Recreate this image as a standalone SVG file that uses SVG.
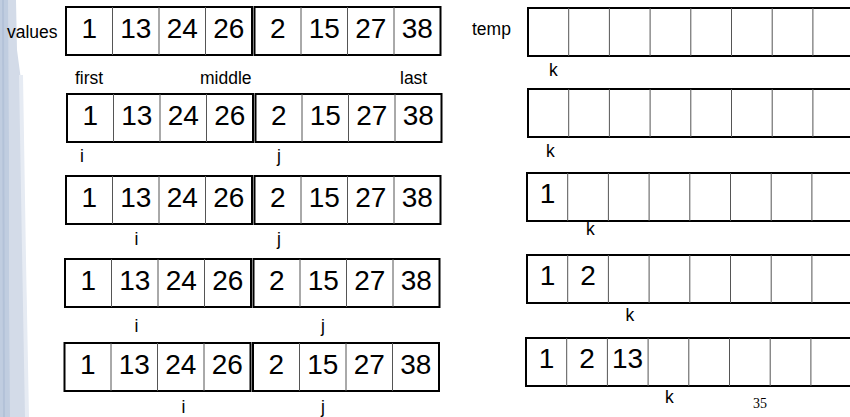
<svg xmlns="http://www.w3.org/2000/svg" width="850" height="417" viewBox="0 0 850 417">
<style>
  .outer{fill:#fff;stroke:#000;stroke-width:2}
  .div{stroke:#555;stroke-width:1}
  .num{font-family:"Liberation Sans",Arial,sans-serif;font-size:28px;fill:#000;text-anchor:middle}
  .lbl{font-family:"Liberation Sans",Arial,sans-serif;font-size:17.5px;fill:#000}
  .pg{font-family:"Liberation Serif","Times New Roman",serif;font-size:14px;fill:#000}
</style>
<defs>
  <g id="half">
    <rect class="outer" x="0" y="0" width="186" height="48"/>
    <line class="div" x1="46.5" y1="0" x2="46.5" y2="48"/>
    <line class="div" x1="93" y1="0" x2="93" y2="48"/>
    <line class="div" x1="139.5" y1="0" x2="139.5" y2="48"/>
  </g>
  <g id="arr">
    <use href="#half"/>
    <use href="#half" x="188.5"/>
    <text class="num" x="23.25" y="31">1</text>
    <text class="num" x="69.75" y="31">13</text>
    <text class="num" x="116.25" y="31">24</text>
    <text class="num" x="162.75" y="31">26</text>
    <text class="num" x="211.75" y="31">2</text>
    <text class="num" x="258.25" y="31">15</text>
    <text class="num" x="304.75" y="31">27</text>
    <text class="num" x="351.25" y="31">38</text>
  </g>
  <g id="tmp">
    <rect class="outer" x="0" y="0" width="330" height="48"/>
    <line class="div" x1="40.7" y1="0" x2="40.7" y2="48"/>
    <line class="div" x1="81.4" y1="0" x2="81.4" y2="48"/>
    <line class="div" x1="122.1" y1="0" x2="122.1" y2="48"/>
    <line class="div" x1="162.8" y1="0" x2="162.8" y2="48"/>
    <line class="div" x1="203.5" y1="0" x2="203.5" y2="48"/>
    <line class="div" x1="244.2" y1="0" x2="244.2" y2="48"/>
    <line class="div" x1="284.9" y1="0" x2="284.9" y2="48"/>
  </g>
</defs>

<g id="background">
  <polygon points="0,0 16,0 17,50 21,80 24,200 26,290 28,417 0,417" fill="#d3dbe8"/>
  <polygon points="0,0 8,0 9,150 9,300 10,417 0,417" fill="#c0cde0"/>
  <polygon points="19,75 23,75 26,260 29,417 25,417 22,250" fill="#e6ebf3"/>
  <polygon points="2,0 4,0 5,417 3,417" fill="#b3c2d8"/>
</g>

<g id="values-labels">
  <text class="lbl" x="7" y="37.5">values</text>
  <text class="lbl" x="75" y="84">first</text>
  <text class="lbl" x="200" y="84">middle</text>
  <text class="lbl" x="400" y="84">last</text>
  <text class="lbl" x="472" y="35">temp</text>
</g>

<g id="values-row1"><use href="#arr" x="66" y="7"/></g>
<g id="values-row2"><use href="#arr" x="67" y="94"/></g>
<g id="values-row3"><use href="#arr" x="66" y="176"/></g>
<g id="values-row4"><use href="#arr" x="65" y="259"/></g>
<g id="values-row5"><use href="#arr" x="64.5" y="343"/></g>

<g id="ij-labels">
  <text class="lbl" x="80" y="162">i</text>
  <text class="lbl" x="277" y="162">j</text>
  <text class="lbl" x="134.5" y="245">i</text>
  <text class="lbl" x="277" y="245">j</text>
  <text class="lbl" x="134.5" y="332">i</text>
  <text class="lbl" x="321" y="332">j</text>
  <text class="lbl" x="181.5" y="413">i</text>
  <text class="lbl" x="321" y="413">j</text>
</g>

<g id="temp-row1"><use href="#tmp" x="528" y="8"/></g>
<g id="temp-row2"><use href="#tmp" x="528" y="89"/></g>
<g id="temp-row3"><use href="#tmp" x="527" y="173"/>
  <text class="num" x="547.5" y="203">1</text>
</g>
<g id="temp-row4"><use href="#tmp" x="527" y="255"/>
  <text class="num" x="547.5" y="285">1</text>
  <text class="num" x="588" y="285">2</text>
</g>
<g id="temp-row5"><use href="#tmp" x="526" y="338"/>
  <text class="num" x="546.5" y="368">1</text>
  <text class="num" x="587" y="368">2</text>
  <text class="num" x="627.5" y="368">13</text>
</g>

<g id="k-labels">
  <text class="lbl" x="549" y="76">k</text>
  <text class="lbl" x="546" y="157">k</text>
  <text class="lbl" x="586" y="235">k</text>
  <text class="lbl" x="625.5" y="321">k</text>
  <text class="lbl" x="665" y="403">k</text>
</g>

<text class="pg" x="753" y="408">35</text>
</svg>
